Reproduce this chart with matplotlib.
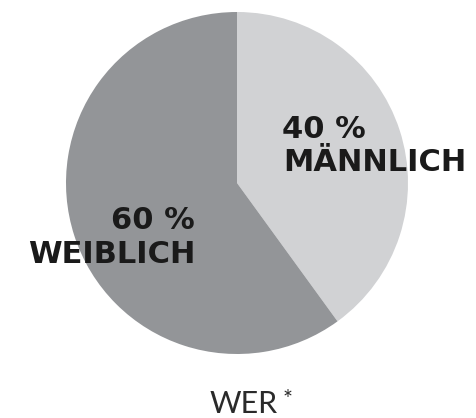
import matplotlib
matplotlib.use("Agg")
import matplotlib.pyplot as plt

# data
labels = ["MÄNNLICH", "WEIBLICH"]
shares = [40, 60]
colors = ["#d1d2d4", "#939598"]
title = "WER"

fig = plt.figure(figsize=(4.77, 4.18), dpi=100)
ax = fig.add_axes([0, 0, 1, 1])

# pie in pixel coords (y axis inverted -> counterclock=True draws clockwise on screen)
ax.pie(shares, colors=colors, startangle=-90, counterclock=True,
       center=(237, 183), radius=171, frame=True,
       wedgeprops=dict(linewidth=0))
ax.set_xlim(0, 477)
ax.set_ylim(418, 0)
ax.set_aspect("equal")
ax.axis("off")

bold = dict(family="DejaVu Sans", weight="bold", color="#1a1a1a", fontsize=22)
ax.text(282, 138, f"{shares[0]} %", ha="left", va="baseline", **bold)
ax.text(283, 171, labels[0], ha="left", va="baseline", **bold)
ax.text(195, 229, f"{shares[1]} %", ha="right", va="baseline", **bold)
ax.text(195, 263, labels[1], ha="right", va="baseline", **bold)

ax.text(210, 413, title, ha="left", va="baseline", family=["Lato", "DejaVu Sans"],
        weight="normal", fontsize=22, color="#2a2a2a")
ax.text(283, 406, "*", ha="left", va="baseline", family=["Lato", "DejaVu Sans"],
        weight="normal", fontsize=17, color="#2a2a2a")

fig.savefig("out.png", dpi=100)
